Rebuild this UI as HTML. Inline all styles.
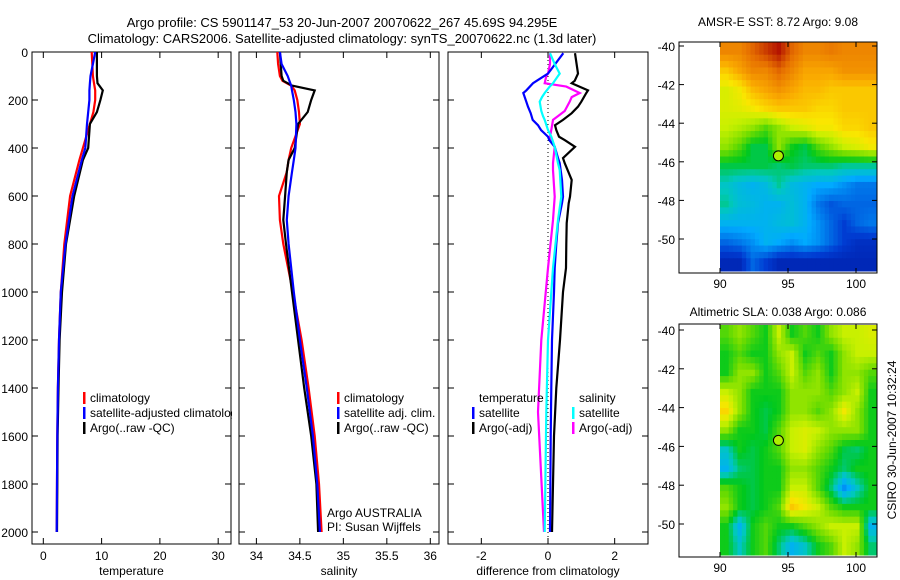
<!DOCTYPE html>
<html><head><meta charset="utf-8">
<style>
html,body{margin:0;padding:0;background:#fff;}
svg{display:block;font-family:"Liberation Sans",sans-serif;}
</style></head>
<body>
<svg id="fig" width="900" height="580" viewBox="0 0 900 580" xmlns="http://www.w3.org/2000/svg">
<text x="342" y="27" font-size="13" text-anchor="middle">Argo profile: CS 5901147_53 20-Jun-2007 20070622_267 45.69S 94.295E</text>
<text x="342" y="43" font-size="13" text-anchor="middle">Climatology: CARS2006. Satellite-adjusted climatology: synTS_20070622.nc (1.3d later)</text>
<text x="778" y="26" font-size="12" text-anchor="middle">AMSR-E SST: 8.72 Argo: 9.08</text>
<text x="778" y="316" font-size="12" text-anchor="middle">Altimetric SLA: 0.038 Argo: 0.086</text>
<text transform="translate(896,440) rotate(-90)" font-size="12" text-anchor="middle">CSIRO 30-Jun-2007 10:32:24</text>
</svg>
<script>
// ---- data ----
const tDepth = [0,50,100,130,160,200,250,300,400,450,600,800,1000,1200,1400,1600,1800,2000];
const tClim  = [8.3,8.4,8.5,8.7,8.9,8.9,8.6,8.0,6.8,6.2,4.6,3.6,3.0,2.7,2.5,2.4,2.35,2.3];
const tSat   = [8.9,8.5,8.1,8.0,7.9,7.9,7.7,7.5,7.2,6.6,5.0,3.8,3.0,2.7,2.5,2.4,2.35,2.3];
const tArgo  = [9.2,9.2,9.2,9.3,10.2,9.8,9.2,8.0,7.7,6.8,5.3,3.9,3.2,2.8,2.6,2.45,2.4,2.35];
const sDepth = [0,50,100,120,140,160,200,250,300,400,450,500,600,700,800,1000,1200,1400,1600,1800,2000];
const sClim  = [34.24,34.25,34.27,34.30,34.40,34.44,34.47,34.49,34.50,34.40,34.37,34.35,34.26,34.27,34.31,34.42,34.52,34.60,34.67,34.72,34.75];
const sSat   = [34.27,34.29,34.36,34.38,34.40,34.41,34.43,34.45,34.46,34.45,34.43,34.41,34.37,34.35,34.37,34.43,34.50,34.58,34.65,34.70,34.73];
const sArgo  = [34.27,34.28,34.29,34.31,34.41,34.67,34.63,34.59,34.48,34.44,34.37,34.35,34.33,34.31,34.34,34.41,34.48,34.55,34.63,34.69,34.71];
const dDepthT = [5,90,120,130,160,171,207,228,255,283,305,325,353,367,395,442,463,533,603,630,713,800,900,1000,1200,1400,1600,2000];
const dTSat   = [0.46,0,-0.34,-0.45,-0.65,-0.74,-0.65,-0.6,-0.52,-0.46,-0.3,-0.21,0,0.04,0.2,0.3,0.35,0.42,0.45,0.42,0.3,0.25,0.2,0.18,0.12,0.1,0.08,0.06];
const dTArgo  = [0.81,0.9,0.8,0.71,1.2,1.15,1.0,0.9,0.71,0.45,0.21,0.25,0.33,0.5,0.81,0.45,0.5,0.71,0.66,0.62,0.56,0.55,0.54,0.45,0.36,0.25,0.18,0.12];
const dDepthS = [5,50,90,100,130,144,171,188,207,246,267,283,325,353,395,463,492,603,700,900,1200,1500,2000];
const dSSat   = [0.06,0.2,0.35,0.3,0.15,0.05,-0.1,-0.18,-0.25,-0.2,-0.15,-0.1,0,0.1,0.2,0.3,0.35,0.4,0.3,0.15,0,-0.05,-0.1];
const dSArgo  = [0.06,0.06,0.0,-0.05,-0.1,0.55,0.95,0.71,0.65,0.5,0.3,0.15,0.1,0.06,0.2,0.15,0.15,0.2,0.15,0,-0.2,-0.3,-0.12];
const depthTicks = [0,200,400,600,800,1000,1200,1400,1600,1800,2000];
const tTicks = [0,10,20,30];
const sTicks = [34,34.5,35,35.5,36];
const sTickLabels = ["34","34.5","35","35.5","36"];
const dTicks = [-2,0,2];
const latTicks = [-40,-42,-44,-46,-48,-50];
const lonTicks = [90,95,100];
const argoLon = 94.295, argoLat = -45.69;
const sstGrid = [
[0.8,0.8,0.85,0.9,0.95,0.85,0.8,0.8,0.82,0.8,0.8,0.8],
[0.7,0.75,0.8,0.8,0.85,0.8,0.75,0.75,0.75,0.78,0.78,0.78],
[0.62,0.65,0.72,0.75,0.78,0.75,0.72,0.72,0.7,0.7,0.7,0.7],
[0.62,0.63,0.65,0.68,0.7,0.7,0.7,0.68,0.68,0.7,0.7,0.7],
[0.6,0.58,0.55,0.5,0.55,0.6,0.62,0.65,0.65,0.68,0.68,0.7],
[0.55,0.5,0.42,0.42,0.55,0.45,0.42,0.5,0.55,0.6,0.62,0.65],
[0.42,0.42,0.42,0.42,0.4,0.42,0.4,0.4,0.4,0.38,0.38,0.38],
[0.35,0.32,0.3,0.32,0.38,0.32,0.3,0.28,0.28,0.25,0.22,0.22],
[0.38,0.33,0.32,0.3,0.3,0.33,0.3,0.22,0.18,0.2,0.2,0.2],
[0.3,0.3,0.3,0.3,0.32,0.33,0.3,0.25,0.2,0.15,0.2,0.22],
[0.2,0.22,0.25,0.3,0.28,0.25,0.28,0.25,0.2,0.15,0.12,0.12],
[0.1,0.1,0.2,0.15,0.1,0.1,0.1,0.1,0.1,0.1,0.1,0.1]];
const slaGrid = [
[0.5,0.55,0.5,0.45,0.6,0.45,0.5,0.45,0.55,0.6,0.6,0.62],
[0.45,0.5,0.45,0.45,0.55,0.6,0.45,0.5,0.45,0.55,0.6,0.6],
[0.45,0.55,0.55,0.45,0.5,0.6,0.5,0.55,0.45,0.55,0.55,0.5],
[0.6,0.55,0.45,0.45,0.45,0.55,0.55,0.55,0.5,0.55,0.6,0.45],
[0.68,0.55,0.45,0.42,0.45,0.55,0.55,0.5,0.55,0.65,0.55,0.45],
[0.55,0.45,0.45,0.42,0.5,0.6,0.62,0.6,0.55,0.55,0.55,0.45],
[0.35,0.45,0.42,0.45,0.5,0.6,0.62,0.55,0.5,0.42,0.4,0.45],
[0.3,0.4,0.42,0.45,0.45,0.55,0.55,0.5,0.45,0.4,0.45,0.45],
[0.5,0.45,0.42,0.45,0.45,0.6,0.6,0.5,0.4,0.25,0.35,0.45],
[0.55,0.45,0.42,0.45,0.5,0.7,0.65,0.6,0.5,0.45,0.45,0.45],
[0.45,0.3,0.45,0.5,0.45,0.45,0.5,0.55,0.6,0.6,0.6,0.3],
[0.45,0.35,0.45,0.5,0.4,0.3,0.35,0.45,0.5,0.6,0.55,0.4]];

// ---- drawing ----
const NS="http://www.w3.org/2000/svg";
const svg=document.getElementById('fig');
function mk(tag,attrs,parent){const e=document.createElementNS(NS,tag);for(const k in attrs)e.setAttribute(k,attrs[k]);(parent||svg).appendChild(e);return e;}
const yTop=52, yBot=544, dMax=2050;
function yD(d){return yTop+d/dMax*(yBot-yTop);}

function panel(name,x0,x1,vmin,vmax,ticks,labels,xlabel,leftLabels){
  const g=mk('g',{});
  
  
  const sx=v=>x0+(v-vmin)/(vmax-vmin)*(x1-x0);
  const fr=mk('rect',{x:x0,y:yTop,width:x1-x0,height:yBot-yTop,fill:'none',stroke:'#000','stroke-width':1},g);
  
  
  depthTicks.forEach(d=>{
    const y=yD(d);
    mk('line',{x1:x0,x2:x0+6,y1:y,y2:y,stroke:'#000'},g);
    mk('line',{x1:x1,x2:x1-6,y1:y,y2:y,stroke:'#000'},g);
    if(leftLabels){const t=mk('text',{x:x0-4,y:y+5,'font-size':12,'text-anchor':'end'},g);t.textContent=d;
      }
  });
  ticks.forEach((v,i)=>{
    const x=sx(v);
    mk('line',{x1:x,x2:x,y1:yBot,y2:yBot-6,stroke:'#000'},g);
    mk('line',{x1:x,x2:x,y1:yTop,y2:yTop+6,stroke:'#000'},g);
    const t=mk('text',{x:x,y:yBot+16,'font-size':12,'text-anchor':'middle'},g);t.textContent=labels[i];
    
  });
  const xl=mk('text',{x:(x0+x1)/2,y:yBot+31,'font-size':12,'text-anchor':'middle'},g);xl.textContent=xlabel;
  
  return {g,sx};
}
function series(p,depths,vals,color,name,clipId){
  const pts=depths.map((d,i)=>p.sx(vals[i]).toFixed(1)+','+yD(d).toFixed(1)).join(' ');
  const l=mk('polyline',{points:pts,fill:'none',stroke:color,'stroke-width':2.2,'clip-path':'url(#'+clipId+')'},p.g);
  
  
}
const defs=mk('defs',{});
function clip(id,x0,x1){const c=mk('clipPath',{id:id},defs);mk('rect',{x:x0,y:yTop,width:x1-x0,height:yBot-yTop},c);}
clip('c1',32,231);clip('c2',239,439);clip('c3',448,648);

function legend(g,x,y,items,name){
  const lg=mk('g',{},g);
  
  
  items.forEach((it,i)=>{
    const yy=y+i*15;
    if(it[0]) mk('rect',{x:x,y:yy-10,width:2.5,height:12,fill:it[0]},lg);
    const t=mk('text',{x:x+7,y:yy,'font-size':12},lg);t.textContent=it[1];
    
    
  });
  return lg;
}

// Panel 1 temperature
const p1=panel('temperature-panel',32,231,-1.94,32.2,tTicks,tTicks.map(String),'temperature',true);
series(p1,tDepth,tClim,'#f00','temp-climatology-line','c1');
series(p1,tDepth,tArgo,'#000','temp-argo-line','c1');
series(p1,tDepth,tSat,'#00f','temp-satellite-line','c1');
legend(p1.g,83,402,[['#f00','climatology'],['#00f','satellite-adjusted climatology'],['#000','Argo(..raw -QC)']],'temperature-legend');

// Panel 2 salinity
mk('rect',{x:232,y:yTop,width:217,height:yBot-yTop,fill:'#fff'});
const p2=panel('salinity-panel',239,439,33.8,36.1,sTicks,sTickLabels,'salinity',false);
series(p2,sDepth,sClim,'#f00','sal-climatology-line','c2');
series(p2,sDepth,sArgo,'#000','sal-argo-line','c2');
series(p2,sDepth,sSat,'#00f','sal-satellite-line','c2');
legend(p2.g,337,402,[['#f00','climatology'],['#00f','satellite adj. clim.'],['#000','Argo(..raw -QC)']],'salinity-legend');
const a1=mk('text',{x:327,y:517,'font-size':12},p2.g);a1.textContent='Argo AUSTRALIA';

const a2=mk('text',{x:327,y:531,'font-size':12},p2.g);a2.textContent='PI: Susan Wijffels';


// Panel 3 difference
mk('rect',{x:440,y:yTop,width:208,height:yBot-yTop,fill:'#fff'});
const p3=panel('difference-panel',448,648,-3,3,dTicks,dTicks.map(String),'difference from climatology',false);
const zx=p3.sx(0);
const zl=mk('line',{x1:zx,x2:zx,y1:yTop,y2:yBot,stroke:'#000','stroke-dasharray':'1,3'},p3.g);

series(p3,dDepthT,dTArgo,'#000','diff-temp-argo-line','c3');
series(p3,dDepthS,dSArgo,'#f0f','diff-sal-argo-line','c3');
series(p3,dDepthT,dTSat,'#00f','diff-temp-satellite-line','c3');
series(p3,dDepthS,dSSat,'#0ff','diff-sal-satellite-line','c3');
legend(p3.g,472,402,[[null,'temperature'],['#00f','satellite'],['#000','Argo(-adj)']],'diff-temperature-legend');
legend(p3.g,572,402,[[null,'salinity'],['#0ff','satellite'],['#f0f','Argo(-adj)']],'diff-salinity-legend');

// colormap (piecewise)
const cmStops=[[0,[0,0,130]],[0.15,[0,60,210]],[0.28,[0,170,255]],[0.36,[0,200,190]],[0.44,[0,200,30]],[0.52,[110,220,0]],[0.6,[200,240,0]],[0.66,[250,230,0]],[0.74,[250,170,0]],[0.84,[230,110,0]],[0.95,[180,20,0]],[1,[160,0,0]]];
function cmap(v){
  v=Math.max(0,Math.min(1,v));
  for(let i=1;i<cmStops.length;i++){
    if(v<=cmStops[i][0]){
      const a=cmStops[i-1],b=cmStops[i],t=(v-a[0])/(b[0]-a[0]);
      return 'rgb('+a[1].map((c,k)=>Math.round(c+(b[1][k]-c)*t)).join(',')+')';
    }
  }
  return 'rgb(160,0,0)';
}
function sample(grid,r,c){
  const R=grid.length-1,C=grid[0].length-1;
  r=Math.max(0,Math.min(R,r));c=Math.max(0,Math.min(C,c));
  const r0=Math.floor(r),c0=Math.floor(c),r1=Math.min(R,r0+1),c1=Math.min(C,c0+1),fr=r-r0,fc=c-c0;
  return grid[r0][c0]*(1-fr)*(1-fc)+grid[r0][c1]*(1-fr)*fc+grid[r1][c0]*fr*(1-fc)+grid[r1][c1]*fr*fc;
}
function mapPanel(name,fx0,fx1,fy0,fy1,lat40y,pxPerLat,grid,imgY0,imgY1){
  const g=mk('g',{});
  
  
  const lon90x=720, pxPerLon=13.6;
  const sx=lon=>lon90x+(lon-90)*pxPerLon;
  const sy=lat=>lat40y+(-40-lat)*pxPerLat;
  const rows=grid.length, cols=grid[0].length, up=3;
  const cw=(fx1-lon90x)/(cols*up), ch=(imgY1-imgY0)/(rows*up);
  for(let r=0;r<rows*up;r++)for(let c=0;c<cols*up;c++){
    const v=sample(grid,(r+0.5)/up-0.5,(c+0.5)/up-0.5);
    const cell=mk('rect',{x:(lon90x+c*cw).toFixed(2),y:(imgY0+r*ch).toFixed(2),width:(cw+0.5).toFixed(2),height:(ch+0.5).toFixed(2),fill:cmap(v)},g);
    
    
  }
  const fr=mk('rect',{x:fx0,y:fy0,width:fx1-fx0,height:fy1-fy0,fill:'none',stroke:'#000'},g);
  
  latTicks.forEach(l=>{
    const y=sy(l);
    mk('line',{x1:fx0,x2:fx0+5,y1:y,y2:y,stroke:'#000'},g);
    mk('line',{x1:fx1,x2:fx1-5,y1:y,y2:y,stroke:'#000'},g);
    const t=mk('text',{x:fx0-4,y:y+5,'font-size':12,'text-anchor':'end'},g);t.textContent=l;
    
  });
  lonTicks.forEach(l=>{
    const x=sx(l);
    mk('line',{x1:x,x2:x,y1:fy1,y2:fy1-5,stroke:'#000'},g);
    mk('line',{x1:x,x2:x,y1:fy0,y2:fy0+5,stroke:'#000'},g);
    const t=mk('text',{x:x,y:fy1+15,'font-size':12,'text-anchor':'middle'},g);t.textContent=l;
    
  });
  const c=mk('circle',{cx:sx(argoLon),cy:sy(argoLat),r:5,fill:'#aef000',stroke:'#000','stroke-width':1},g);
  
  
}
mapPanel('sst-map',679,877,42,273,46,19.3,sstGrid,42,271);
mapPanel('sla-map',679,877,324,557,330,19.4,slaGrid,325,555);
</script>
</body></html>
